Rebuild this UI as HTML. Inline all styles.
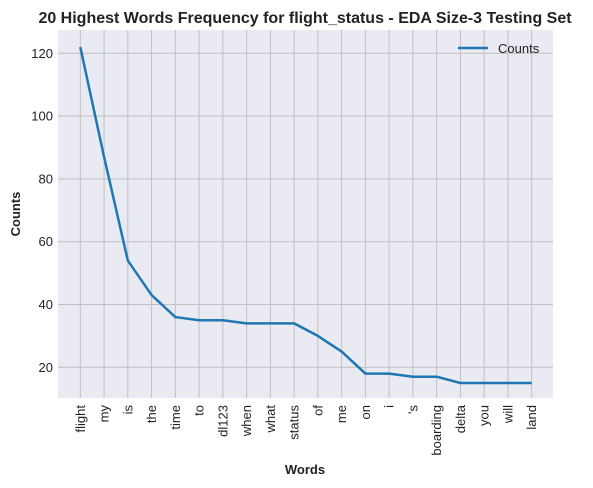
<!DOCTYPE html>
<html><head><meta charset="utf-8"><style>
body{margin:0;background:#fff;}
svg{display:block;font-family:"Liberation Sans",Arial,sans-serif;}
</style></head><body>
<svg id="chart" width="593" height="488">
<text x="305" y="23" text-anchor="middle" font-size="16" font-weight="bold" fill="#222">20 Highest Words Frequency for flight_status - EDA Size-3 Testing Set</text>
<rect x="58" y="30" width="495" height="368" fill="#eaeaf2"/>
<g id="grid"></g>
<g id="yticks"></g>
<g id="xticks"></g>
<polyline id="line" fill="none" stroke="#1f77b4" stroke-width="2.5" stroke-linejoin="round"/>
<g>
<line x1="458" y1="48" x2="488" y2="48" stroke="#1f77b4" stroke-width="2.5"/>
<text x="498" y="53" font-size="13" fill="#222">Counts</text>
</g>
<text x="305" y="474" text-anchor="middle" font-size="13" font-weight="bold" fill="#222">Words</text>
<text transform="translate(20,214) rotate(-90)" text-anchor="middle" font-size="13" font-weight="bold" fill="#222">Counts</text>
</svg>
<script>
const words=["flight","my","is","the","time","to","dl123","when","what","status","of","me","on","i","'s","boarding","delta","you","will","land"];
const counts=[122,87,54,43,36,35,35,34,34,34,30,25,18,18,17,17,15,15,15,15];
const yTicks=[20,40,60,80,100,120];
const NS="http://www.w3.org/2000/svg";
const x=i=>80.3+i*(531.7-80.3)/(words.length-1);
const y=v=>367.3-(v-20)*3.14;
const grid=document.getElementById('grid'),yt=document.getElementById('yticks'),xt=document.getElementById('xticks');
function mk(t,a){const e=document.createElementNS(NS,t);for(const k in a)e.setAttribute(k,a[k]);return e;}
yTicks.forEach(v=>{
 const l=mk('line',{x1:58,x2:553,y1:y(v),y2:y(v),stroke:'#c0c0c0','stroke-width':1});
 
 
 grid.appendChild(l);
 const t=mk('text',{x:53,y:y(v)+4.5,'text-anchor':'end','font-size':13,fill:'#222'});
 
 
 t.textContent=v;yt.appendChild(t);
});
words.forEach((w,i)=>{
 const l=mk('line',{x1:x(i),x2:x(i),y1:30,y2:398,stroke:'#c0c0c0','stroke-width':1});
 
 
 grid.appendChild(l);
 const t=mk('text',{transform:`translate(${x(i)+4.5},405) rotate(-90)`,'text-anchor':'end','font-size':13,fill:'#222'});
 
 
 t.textContent=w;xt.appendChild(t);
});
document.getElementById('line').setAttribute('points',counts.map((c,i)=>x(i)+','+y(c)).join(' '));
</script>
</body></html>
